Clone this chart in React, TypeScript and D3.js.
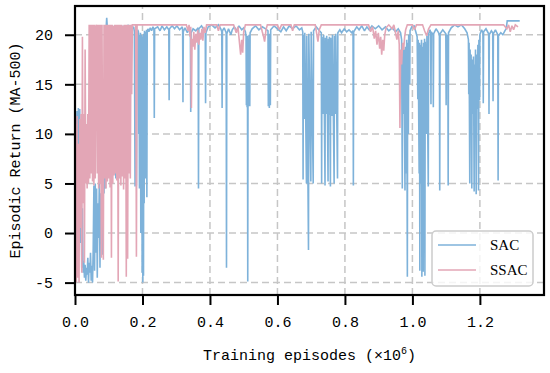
import React, { useEffect, useRef } from "react";
import * as d3 from "d3";

// tick values
const xTicks = [0, 0.2, 0.4, 0.6, 0.8, 1.0, 1.2];
const yTicks = [-5, 0, 5, 10, 15, 20];
const seriesNames = ["SAC", "SSAC"];

// SAC, early noisy phase (x in 1e6 episodes, y = return)
const sacEarly: [number, number][] = [
  [0.000, 4.0], [0.002, 11.5], [0.004, 8.0], [0.006, 12.3], [0.008, 2.0], [0.010, 12.6], [0.012, 6.0],
  [0.014, 12.5], [0.016, -1.0], [0.018, 10.0], [0.020, -3.5], [0.022, 2.5], [0.024, -4.0], [0.026, -2.8],
  [0.028, -4.5], [0.030, -3.2], [0.032, -4.8], [0.034, -3.5], [0.036, -4.2], [0.038, -2.5], [0.040, -5.0],
  [0.042, -3.0], [0.044, -4.0], [0.046, -2.0], [0.048, -4.8], [0.050, -3.3], [0.052, -5.0], [0.054, -1.5],
  [0.056, 4.8], [0.058, -3.8], [0.060, 5.0], [0.062, -2.0], [0.064, 4.5], [0.066, -4.5], [0.068, 3.0],
  [0.070, -0.5], [0.072, 5.0], [0.074, -3.5], [0.076, 4.0], [0.078, 2.0], [0.080, 5.5], [0.082, -2.2],
  [0.084, 5.0], [0.086, 4.0], [0.088, 15.0], [0.090, 4.5], [0.092, 20.5], [0.094, 21.7], [0.096, 20.6],
  [0.098, 20.9], [0.100, 20.3], [0.104, 20.8], [0.108, 20.4], [0.112, 20.9], [0.116, 20.2], [0.118, 20.8],
  [0.121, 5.5], [0.122, 20.6], [0.126, 20.9], [0.128, 12.4], [0.130, 20.5], [0.131, 14.7], [0.132, 20.3],
  [0.136, 20.8], [0.140, 15.5], [0.142, 20.9], [0.146, 20.4], [0.150, 20.9], [0.154, 20.6], [0.158, 21.0],
  [0.162, 20.5], [0.166, 20.9], [0.170, 20.6], [0.174, 20.8], [0.176, 20.3], [0.178, 4.7], [0.180, 20.1],
  [0.182, 4.8], [0.184, 19.0], [0.186, 20.5], [0.188, 20.3], [0.189, 10.0], [0.190, 20.0], [0.191, 4.5],
  [0.192, 19.5], [0.193, 7.0], [0.194, 20.2], [0.195, 0.0], [0.196, 18.5], [0.197, 9.5], [0.198, 20.0],
  [0.199, -4.0], [0.200, 19.8], [0.201, -5.0], [0.202, 19.5], [0.203, -4.3], [0.204, 20.1], [0.205, 3.0],
  [0.206, 20.4], [0.207, 8.0], [0.208, 19.8], [0.209, 5.5], [0.210, 20.3], [0.211, 10.5], [0.212, 20.5],
  [0.213, 3.6], [0.214, 20.2], [0.216, 20.6], [0.219, 20.3], [0.223, 20.7], [0.227, 20.4], [0.231, 20.8],
  [0.234, 20.5], [0.235, 11.6], [0.236, 20.6],
];

// SAC, after convergence: near 20.5 with sharp drops
const sacLate: [number, number][] = [
  [0.245, 20.8], [0.252, 20.4], [0.258, 20.9], [0.265, 20.5], [0.272, 20.8], [0.278, 20.5], [0.279, 13.4],
  [0.280, 20.6], [0.288, 20.9], [0.295, 20.6], [0.302, 20.9], [0.310, 20.5], [0.318, 20.8], [0.319, 20.4],
  [0.320, 13.2], [0.321, 20.3], [0.326, 20.7], [0.333, 20.2], [0.338, 20.6], [0.342, 20.3], [0.343, 12.2],
  [0.344, 20.2], [0.350, 20.6], [0.358, 20.4], [0.365, 20.7], [0.366, 4.5], [0.367, 20.6], [0.375, 20.9],
  [0.382, 20.5], [0.386, 20.3], [0.387, 13.1], [0.388, 20.2], [0.395, 20.8], [0.405, 21.0], [0.415, 20.7],
  [0.425, 21.0], [0.432, 20.6], [0.435, 20.3], [0.436, 12.6], [0.437, 20.4], [0.442, 20.7], [0.448, 20.2],
  [0.449, -3.5], [0.450, 20.1], [0.455, 20.6], [0.462, 20.0], [0.466, 20.5], [0.472, 20.8], [0.480, 20.4],
  [0.486, 20.9], [0.494, 20.5], [0.500, 20.7], [0.505, 20.3], [0.507, 19.8], [0.508, 12.9], [0.509, 19.5],
  [0.510, 12.7], [0.511, 19.9], [0.512, -4.9], [0.513, 19.6], [0.515, 12.8], [0.516, 20.0], [0.518, 12.8],
  [0.519, 20.2], [0.525, 20.6], [0.535, 20.9], [0.545, 20.5], [0.555, 20.8], [0.565, 20.6], [0.572, 20.4],
  [0.573, 12.8], [0.574, 20.0], [0.576, 12.6], [0.577, 20.1], [0.579, 12.9], [0.580, 20.5], [0.590, 20.9],
  [0.600, 20.6], [0.610, 20.3], [0.618, 20.8], [0.626, 20.4], [0.635, 20.9], [0.645, 20.6], [0.655, 20.9],
  [0.665, 20.5], [0.672, 20.7], [0.675, 20.3], [0.676, 5.4], [0.677, 20.0], [0.680, 11.5], [0.681, 20.2],
  [0.686, 5.0], [0.687, 19.9], [0.692, -1.7], [0.693, 20.1], [0.699, 5.2], [0.700, 20.3], [0.706, 5.0],
  [0.707, 20.4], [0.715, 20.8], [0.722, 20.5], [0.730, 20.2], [0.731, 5.0], [0.732, 19.8], [0.736, 12.0],
  [0.737, 20.0], [0.741, 4.8], [0.742, 19.7], [0.745, 12.0], [0.746, 19.9], [0.750, 5.2], [0.751, 19.6],
  [0.753, 11.9], [0.754, 19.8], [0.757, 4.7], [0.758, 19.7], [0.762, 11.8], [0.763, 20.0], [0.768, 5.0],
  [0.769, 19.9], [0.772, 12.0], [0.773, 20.1], [0.778, 5.5], [0.779, 20.2], [0.785, 20.5], [0.790, 20.2],
  [0.798, 20.6], [0.805, 20.3], [0.812, 20.5], [0.820, 20.2], [0.824, 20.4], [0.825, 4.8], [0.826, 20.3],
  [0.835, 20.8], [0.842, 20.5], [0.850, 20.9], [0.858, 20.4], [0.865, 20.8], [0.872, 20.5], [0.880, 20.9],
  [0.890, 20.6], [0.900, 20.9], [0.910, 20.5], [0.920, 20.8], [0.930, 20.4], [0.940, 20.7], [0.950, 20.3],
  [0.958, 20.6], [0.965, 20.2], [0.968, 19.5], [0.970, 4.5], [0.971, 19.0], [0.974, 12.0], [0.975, 18.5],
  [0.978, 4.3], [0.979, 18.8], [0.982, 6.0], [0.983, 19.5], [0.985, -4.4], [0.986, 19.2], [0.988, 10.0],
  [0.989, 20.0], [0.992, 15.0], [0.993, 20.4], [0.998, 20.8], [1.005, 20.9], [1.010, 20.3], [1.014, 19.8],
  [1.016, 13.5], [1.017, 19.5], [1.020, 6.0], [1.021, 19.2], [1.022, -3.8], [1.023, 19.0], [1.026, 5.0],
  [1.027, 19.5], [1.028, -4.4], [1.029, 18.8], [1.032, -3.9], [1.033, 19.2], [1.035, 8.0], [1.036, 19.6],
  [1.037, -4.3], [1.038, 19.3], [1.042, 10.0], [1.043, 19.9], [1.047, 4.7], [1.048, 20.1], [1.052, 20.5],
  [1.054, 20.2], [1.055, 13.0], [1.056, 20.3], [1.061, 20.0], [1.062, 12.7], [1.063, 20.1], [1.070, 20.6],
  [1.076, 20.3], [1.080, 20.0], [1.081, 4.3], [1.082, 20.1], [1.090, 20.5], [1.099, 20.1], [1.100, 12.9],
  [1.101, 20.0], [1.105, 19.8], [1.106, 4.8], [1.107, 20.2], [1.115, 20.7], [1.125, 21.0], [1.135, 20.8],
  [1.145, 21.0], [1.155, 20.6], [1.162, 20.2], [1.166, 19.5], [1.167, 14.0], [1.168, 19.2], [1.170, 5.0],
  [1.171, 18.5], [1.173, 13.0], [1.174, 18.0], [1.176, 4.5], [1.177, 17.5], [1.180, 12.0], [1.181, 17.8],
  [1.183, 4.2], [1.184, 17.0], [1.186, 13.4], [1.187, 18.5], [1.189, 3.9], [1.190, 18.0], [1.193, 12.5],
  [1.194, 19.0], [1.196, 4.3], [1.197, 19.5], [1.199, 13.4], [1.200, 20.0], [1.205, 20.5], [1.209, 20.2],
  [1.210, 13.1], [1.211, 20.3], [1.218, 20.6], [1.226, 20.1], [1.227, 12.0], [1.228, 20.0], [1.234, 20.4],
  [1.238, 20.2], [1.239, 13.3], [1.240, 20.1], [1.246, 20.5], [1.253, 20.0], [1.254, 5.3], [1.255, 19.9],
  [1.262, 20.2], [1.268, 20.0], [1.274, 20.4], [1.278, 20.6], [1.281, 21.4], [1.318, 21.4],
];

// SSAC, early noisy phase
const ssacEarly: [number, number][] = [
  [0.000, -4.9], [0.002, 11.0], [0.004, -5.0], [0.006, 11.8], [0.008, -4.5], [0.010, 9.0], [0.012, -5.0],
  [0.014, 11.5], [0.016, 0.5], [0.018, 12.0], [0.020, -4.0], [0.022, 19.8], [0.024, 3.0], [0.026, 12.0],
  [0.028, -3.0], [0.030, 18.5], [0.032, 5.0], [0.034, 11.0], [0.036, 4.5], [0.038, 12.0], [0.040, 5.0],
  [0.042, 21.0], [0.044, 5.5], [0.046, 21.0], [0.048, 6.0], [0.050, 21.0], [0.052, 5.2], [0.054, 21.0],
  [0.056, 4.8], [0.058, 21.0], [0.060, 5.5], [0.062, 20.8], [0.064, 21.0], [0.066, 6.0], [0.068, 21.0],
  [0.070, 4.5], [0.072, 21.0], [0.074, 5.0], [0.076, 21.0], [0.078, -2.5], [0.080, 21.0], [0.082, 6.0],
  [0.084, -2.7], [0.086, 21.0], [0.088, 5.5], [0.090, 21.0], [0.092, 4.5], [0.094, 21.0], [0.096, 5.2],
  [0.098, 21.0], [0.100, 5.5], [0.102, 21.0], [0.104, 4.6], [0.106, 21.0], [0.108, -2.5], [0.110, 21.0],
  [0.112, 5.0], [0.114, 20.9], [0.116, 5.8], [0.118, 21.0], [0.120, 6.0], [0.122, 21.0], [0.124, 5.3],
  [0.126, 21.0], [0.128, -4.9], [0.130, 21.0], [0.132, 5.5], [0.134, 21.0], [0.136, 4.8], [0.138, 21.0],
  [0.140, 5.7], [0.142, 20.9], [0.144, 4.4], [0.146, 21.0], [0.148, 5.5], [0.150, 21.0], [0.152, -4.4],
  [0.154, 21.0], [0.156, -2.6], [0.158, 21.0], [0.160, 6.0], [0.162, 21.0], [0.164, 5.5], [0.166, 21.0],
  [0.168, 14.0], [0.170, 21.0], [0.180, 21.0], [0.182, -2.4], [0.184, 21.0], [0.186, 21.0],
];

// SSAC, after convergence: flat at 21 with shallow dips
const ssacLate: [number, number][] = [
  [0.330, 21.0], [0.335, 20.4], [0.338, 21.0], [0.341, 19.8], [0.343, 20.8], [0.345, 12.6], [0.347, 19.6],
  [0.350, 18.8], [0.352, 20.3], [0.355, 18.5], [0.358, 20.1], [0.361, 19.2], [0.364, 20.5], [0.367, 19.0],
  [0.370, 20.2], [0.373, 19.5], [0.376, 20.6], [0.379, 19.4], [0.382, 20.8], [0.386, 20.2], [0.390, 21.0],
  [0.420, 21.0], [0.425, 20.4], [0.430, 21.0], [0.470, 21.0], [0.478, 20.2], [0.483, 20.8], [0.488, 19.0],
  [0.491, 18.0], [0.494, 19.5], [0.497, 18.2], [0.500, 20.3], [0.505, 21.0], [0.550, 21.0], [0.555, 20.3],
  [0.559, 19.8], [0.562, 19.3], [0.566, 20.5], [0.570, 21.0], [0.600, 21.0], [0.606, 20.5], [0.612, 21.0],
  [0.640, 21.0], [0.645, 20.4], [0.650, 21.0], [0.712, 21.0], [0.716, 20.2], [0.720, 19.3], [0.724, 20.5],
  [0.730, 21.0], [0.870, 21.0], [0.876, 20.3], [0.882, 20.8], [0.887, 19.6], [0.891, 20.4], [0.895, 19.0],
  [0.899, 20.2], [0.903, 18.6], [0.906, 19.8], [0.909, 18.0], [0.912, 19.5], [0.915, 18.4], [0.918, 20.0],
  [0.922, 20.7], [0.930, 21.0], [0.940, 20.6], [0.945, 21.0], [0.950, 20.2], [0.954, 19.5], [0.958, 20.4],
  [0.961, 19.0], [0.963, 10.6], [0.965, 18.5], [0.968, 17.0], [0.971, 19.2], [0.974, 18.5], [0.977, 19.8],
  [0.980, 20.5], [0.985, 21.0], [1.000, 21.0], [1.006, 20.5], [1.012, 21.0], [1.030, 21.0], [1.036, 20.4],
  [1.042, 19.9], [1.048, 20.6], [1.055, 21.0], [1.270, 21.0], [1.280, 20.6], [1.285, 21.0], [1.290, 20.3],
  [1.295, 20.9], [1.300, 20.5], [1.305, 21.0], [1.313, 20.8],
];

const colors = ["#7eb2da", "#e3a6b6"];
const labelFont = "'Liberation Mono', 'DejaVu Sans Mono', monospace";

const App = () => {
  const svgRef = useRef<SVGSVGElement>(null);

  useEffect(() => {
    const svg = d3.select(svgRef.current);
    svg.selectAll("*").remove();

    const W = 550, H = 373;
    const margin = { top: 6, right: 6, bottom: 78, left: 75 };

    const x = d3.scaleLinear().domain([0, 1.39]).range([margin.left, W - margin.right]);
    const y = d3.scaleLinear().domain([-6.25, 22.9]).range([H - margin.bottom, margin.top]);

    svg.attr("width", W).attr("height", H);
    svg.append("rect").attr("width", W).attr("height", H).attr("fill", "#fff");

    // grid
    const grid = svg.append("g").attr("stroke", "#c6c6c6").attr("stroke-width", 1.5)
      .attr("stroke-dasharray", "7,4");
    grid.selectAll(".gx").data(xTicks).enter().append("line")
      .attr("x1", d => x(d)).attr("x2", d => x(d))
      .attr("y1", y.range()[0]).attr("y2", y.range()[1]);
    grid.selectAll(".gy").data(yTicks).enter().append("line")
      .attr("y1", d => y(d)).attr("y2", d => y(d))
      .attr("x1", x.range()[0]).attr("x2", x.range()[1]);

    const line = d3.line<[number, number]>().x(d => x(d[0])).y(d => y(d[1]));

    const sac = [...sacEarly, ...sacLate];
    const ssac = [...ssacEarly, ...ssacLate];

    [sac, ssac].forEach((s, i) => {
      svg.append("path")
        .datum(s)
        .attr("d", line)
        .attr("fill", "none")
        .attr("stroke", colors[i])
        .attr("stroke-width", 1.6)
        .attr("stroke-linejoin", "miter")
        .attr("stroke-miterlimit", 2);
    });

    // axes
    const xAxis = svg.append("g")
      .attr("transform", `translate(0,${H - margin.bottom})`)
      .call(d3.axisBottom(x).tickValues(xTicks).tickFormat(d3.format(".1f")).tickSize(10).tickPadding(11));
    const yAxis = svg.append("g")
      .attr("transform", `translate(${margin.left},0)`)
      .call(d3.axisLeft(y).tickValues(yTicks).tickSize(10).tickPadding(12));

    [xAxis, yAxis].forEach(a => {
      a.select(".domain").remove();
      a.selectAll(".tick line").attr("stroke", "#000").attr("stroke-width", 2);
      a.selectAll(".tick text")
        .attr("fill", "#000")
        .style("font-family", labelFont)
        .style("font-size", "15px");
    });
    yAxis.selectAll(".tick text").text((d: any) => (d < 0 ? "-" + Math.abs(d) : String(d)));

    // frame
    svg.append("rect")
      .attr("x", margin.left).attr("y", margin.top)
      .attr("width", x.range()[1] - margin.left)
      .attr("height", y.range()[0] - margin.top)
      .attr("fill", "none").attr("stroke", "#000").attr("stroke-width", 2.2);

    // axis titles
    const xl = svg.append("text")
      .attr("x", (x.range()[0] + x.range()[1]) / 2)
      .attr("y", 360)
      .attr("text-anchor", "middle")
      .style("font-family", labelFont)
      .style("font-size", "15px")
      .attr("fill", "#000");
    xl.append("tspan").text("Training episodes (×10");
    xl.append("tspan").attr("dy", -6).style("font-size", "10px").text("6");
    xl.append("tspan").attr("dy", 6).text(")");

    svg.append("text")
      .attr("transform", `translate(20,${(y.range()[0] + y.range()[1]) / 2}) rotate(-90)`)
      .attr("text-anchor", "middle")
      .style("font-family", labelFont)
      .style("font-size", "15px")
      .attr("fill", "#000")
      .text("Episodic Return (MA-500)");

    // legend
    const lg = svg.append("g").attr("transform", "translate(432,231)");
    lg.append("rect").attr("width", 101).attr("height", 55).attr("rx", 4)
      .attr("fill", "#fff").attr("fill-opacity", 0.8)
      .attr("stroke", "#cccccc").attr("stroke-width", 1.5);
    seriesNames.forEach((name, i) => {
      const yy = 14 + i * 25;
      lg.append("line").attr("x1", 6).attr("x2", 44).attr("y1", yy).attr("y2", yy)
        .attr("stroke", colors[i]).attr("stroke-width", 1.5);
      lg.append("text").attr("x", 58).attr("y", yy + 5)
        .style("font-family", "'Liberation Serif', 'Times New Roman', serif")
        .style("font-size", "15px")
        .attr("fill", "#000")
        .text(name);
    });
  }, []);

  return <svg ref={svgRef} style={{ position: "absolute", left: 0, top: 0 }}></svg>;
};

export default App;
